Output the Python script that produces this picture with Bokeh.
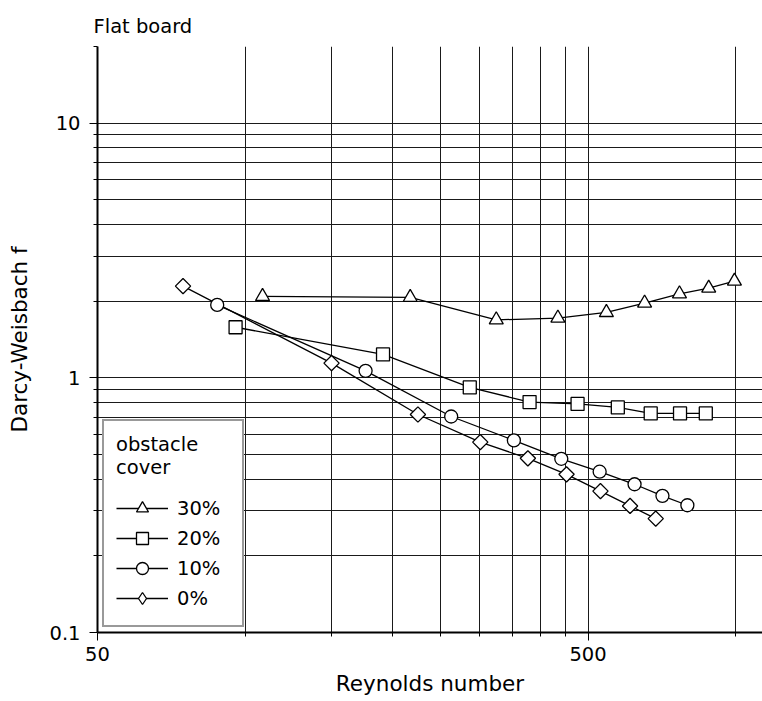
import numpy as np
from bokeh.plotting import figure
from bokeh.models import FixedTicker, Legend, LegendItem, ColumnDataSource, PrintfTickFormatter
from bokeh.embed import file_html
from bokeh.resources import INLINE

# ---- data ----
series_names = ["30%", "20%", "10%", "0%"]
re_30 = [108.5, 217, 325, 434, 545, 652, 768, 881, 994]
f_30 = [2.087, 2.069, 1.689, 1.716, 1.806, 1.965, 2.137, 2.250, 2.397]
re_20 = [95.6, 191, 287, 380, 476, 575, 671, 770, 869]
f_20 = [1.58, 1.236, 0.917, 0.803, 0.790, 0.765, 0.725, 0.725, 0.725]
re_10 = [87.7, 176, 263, 353, 441, 528, 622, 709, 797]
f_10 = [1.934, 1.065, 0.705, 0.568, 0.481, 0.428, 0.382, 0.344, 0.316]
re_0 = [74.7, 150, 225, 301.5, 377, 452, 530, 609, 687]
f_0 = [2.291, 1.142, 0.718, 0.559, 0.483, 0.418, 0.359, 0.314, 0.280]

x_major = [50, 500]
x_minor = [100, 150, 200, 250, 300, 350, 400, 450, 1000]
y_major = [0.1, 1, 10]
y_minor = [0.2, 0.3, 0.4, 0.5, 0.6, 0.7, 0.8, 0.9, 2, 3, 4, 5, 6, 7, 8, 9, 20]

FONT = "DejaVu Sans"

p = figure(width=762, height=701, x_axis_type="log", y_axis_type="log",
           x_range=(50, 1134), y_range=(0.1, 20),
           output_backend="svg", toolbar_location=None,
           min_border_left=97, min_border_right=0, min_border_top=46,
           min_border_bottom=69)
p.outline_line_color = None
p.background_fill_color = "white"
p.border_fill_color = "white"

p.title.text = "Flat board"
p.title.text_font = FONT
p.title.text_font_size = "19.5px"
p.title.text_font_style = "normal"
p.title.text_color = "black"
p.title.align = "left"
p.title.offset = -4
p.title.standoff = 17

p.xaxis.ticker = FixedTicker(ticks=x_major, minor_ticks=x_minor)
p.yaxis.ticker = FixedTicker(ticks=y_major, minor_ticks=y_minor)
p.xaxis.formatter = PrintfTickFormatter(format="%g")
p.yaxis.formatter = PrintfTickFormatter(format="%g")

for ax in (p.xaxis[0], p.yaxis[0]):
    ax.axis_line_width = 2
    ax.axis_line_color = "black"
    ax.major_tick_in = 0
    ax.minor_tick_in = 0
    ax.major_tick_out = 8
    ax.minor_tick_out = 4
    ax.major_tick_line_color = "black"
    ax.minor_tick_line_color = "black"
    ax.major_label_text_font = FONT
    ax.major_label_text_font_size = "19.5px"
    ax.major_label_text_color = "black"
    ax.axis_label_text_font = FONT
    ax.axis_label_text_font_size = "21.5px"
    ax.axis_label_text_font_style = "normal"
    ax.axis_label_text_color = "black"

p.xaxis.axis_label = "Reynolds number"
p.yaxis.axis_label = "Darcy-Weisbach f"
p.xaxis.major_label_standoff = 6
p.xaxis.axis_label_standoff = 7
p.yaxis.major_label_standoff = 9
p.yaxis.axis_label_standoff = 14

for g in (p.xgrid[0], p.ygrid[0]):
    g.grid_line_color = "#1a1a1a"
    g.grid_line_width = 1
    g.minor_grid_line_color = "#1a1a1a"
    g.minor_grid_line_width = 1

series = [
    ("30%", re_30, f_30, "triangle", 14, 0.0),
    ("20%", re_20, f_20, "square", 13, 0.0),
    ("10%", re_10, f_10, "circle", 13, 0.0),
    ("0%", re_0, f_0, "square", 10.8, np.pi / 4),
]

sources = {}
lines = {}
for name, xs, ys, mk, sz, ang in series:
    src = ColumnDataSource(dict(x=xs, y=ys))
    sources[name] = src
    lines[name] = p.line("x", "y", source=src, line_color="black", line_width=1.3)

items = []
for name, xs, ys, mk, sz, ang in series:
    sr = p.scatter("x", "y", source=sources[name], marker=mk, size=sz, angle=ang,
                   fill_color="white", line_color="black", line_width=1.3)
    rs = [lines[name], sr]
    if ang != 0.0:
        # legend-only swatch (no visible data): diamond shape for the key
        ghost = ColumnDataSource(dict(x=[np.nan], y=[np.nan]))
        gr = p.scatter("x", "y", source=ghost, marker="diamond", size=sz,
                       fill_color="white", line_color="black", line_width=1.3)
        rs = [lines[name], gr]
    items.append(LegendItem(label=name, renderers=rs))

legend = Legend(items=items, location=(5, 5), title="obstacle\ncover",
                title_text_font=FONT, title_text_font_size="19.5px",
                title_text_font_style="normal", title_text_color="black",
                title_standoff=14,
                label_text_font=FONT, label_text_font_size="19.5px",
                label_text_color="black",
                glyph_width=52, glyph_height=30, spacing=0, padding=12,
                label_standoff=9, label_width=53,
                border_line_color="#333333", border_line_width=2,
                background_fill_color="white", background_fill_alpha=1.0,
                margin=0)
p.add_layout(legend, "center")

open("out.html", "w").write(file_html(p, INLINE))
